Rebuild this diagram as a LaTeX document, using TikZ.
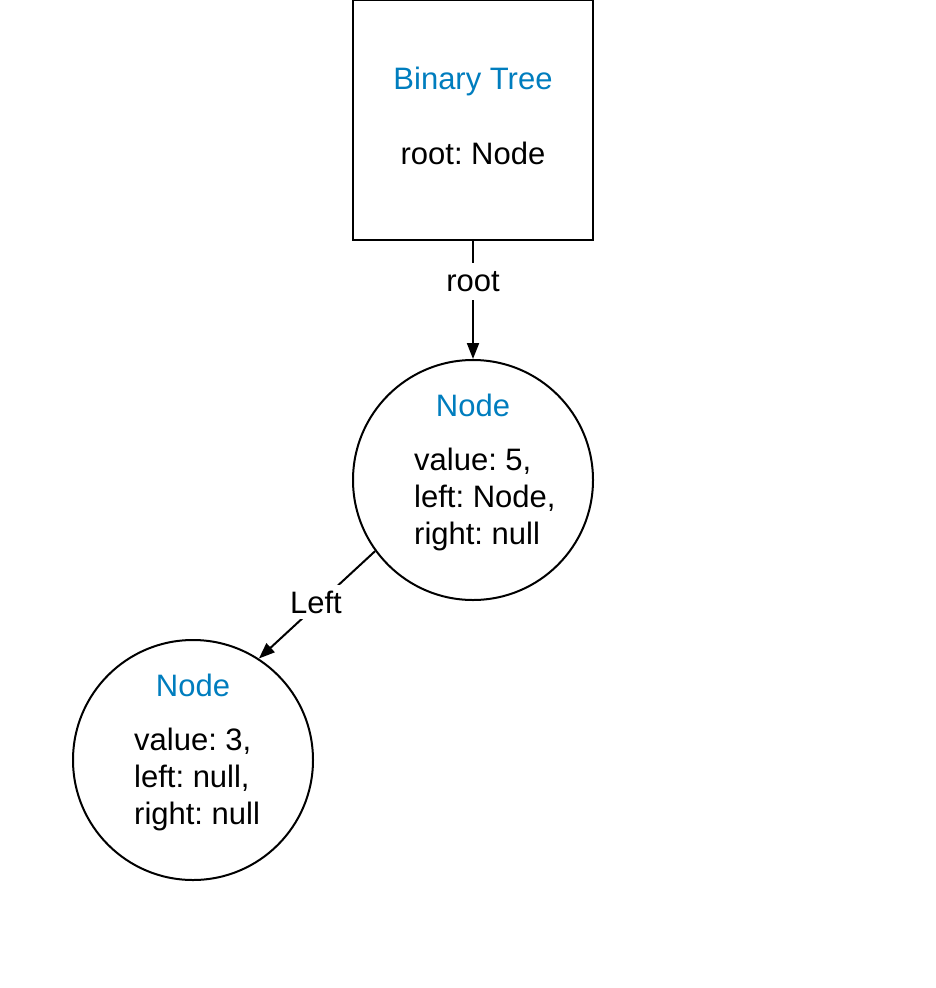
\documentclass[tikz,border=0pt]{standalone}
\usepackage{fontspec}
\setmainfont{Liberation Sans}
\usetikzlibrary{arrows.meta}
\frenchspacing
\definecolor{titleblue}{RGB}{0,125,190}
\tikzset{
  shapeline/.style={draw=black, line width=2pt},
  circ/.style={shapeline, circle, minimum size=240pt, inner sep=0pt},
  boxshape/.style={shapeline, rectangle, minimum width=240pt, minimum height=240pt, inner sep=0pt},
  txt/.style={font=\fontsize{31}{37}\selectfont\frenchspacing, inner sep=0pt, anchor=base},
  ltxt/.style={txt, anchor=base west},
  ttl/.style={txt, text=titleblue},
  conn/.style={line width=2pt, -{Triangle[length=16pt,width=12pt]}},
  lbl/.style={font=\fontsize{31}{37}\selectfont, fill=white, inner xsep=2pt, inner ysep=7pt}
}
\begin{document}
\begin{tikzpicture}[x=1pt,y=-1pt]
\useasboundingbox (0,0) rectangle (935,988);
\node[boxshape] (tree) at (473,120) {};
\node[ttl] (treettl) at (473,89) {Binary Tree};
\node[txt] (treeroot) at (473,164) {root: Node};

\node[circ] (c1) at (473,480) {};
\node[ttl] (c1ttl) at (473,416) {Node};
\node[ltxt] (c1a) at (414,470) {value: 5,};
\node[ltxt] (c1b) at (414,507) {left: Node,};
\node[ltxt] (c1c) at (414,544) {right: null};

\node[circ] (c2) at (193,760) {};
\node[ttl] (c2ttl) at (193,696) {Node};
\node[ltxt] (c2a) at (134,750) {value: 3,};
\node[ltxt] (c2b) at (134,787) {left: null,};
\node[ltxt] (c2c) at (134,824) {right: null};

\draw[conn] (tree.south) -- (c1.north);
\draw[conn] (c1.216) -- (c2.57);
\node[lbl, inner ysep=8.5pt] (rootlbl) at (473,281.5) {root};
\node[lbl, inner ysep=6pt] (leftlbl) at (316,602) {Left};
\end{tikzpicture}
\end{document}
